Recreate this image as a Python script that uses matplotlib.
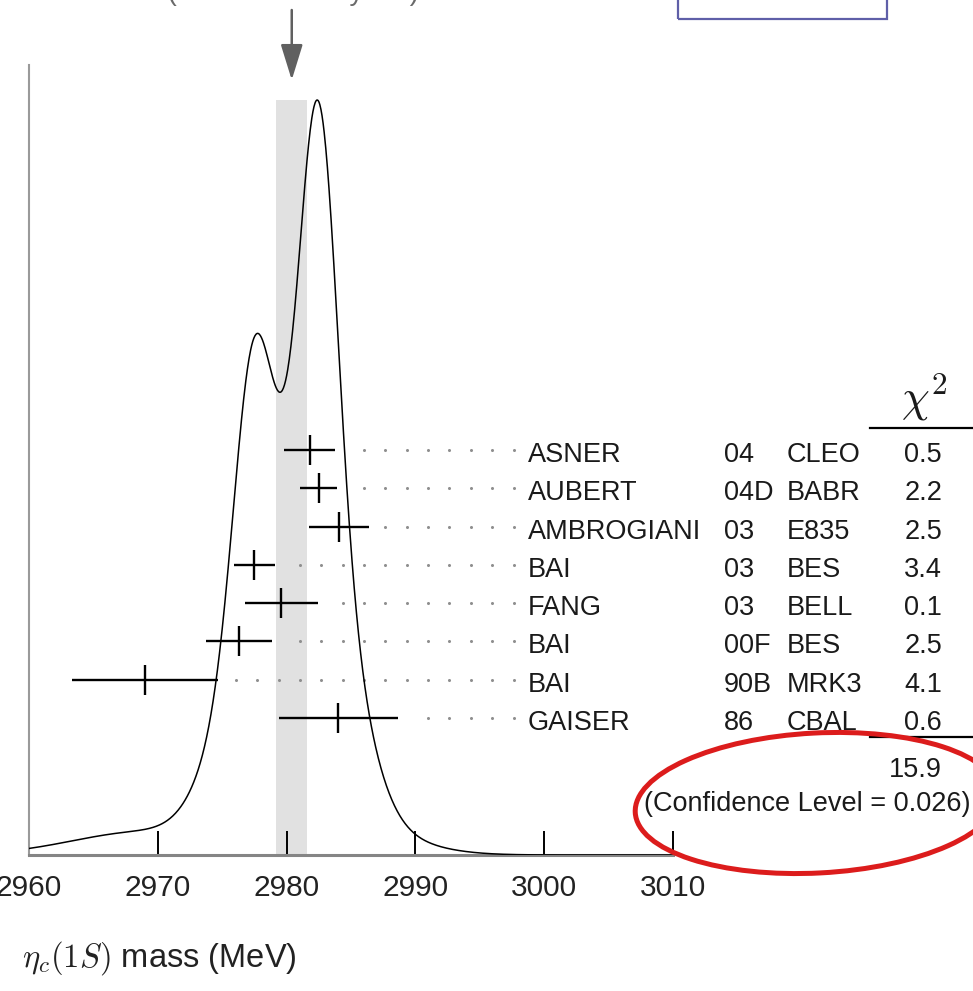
import numpy as np
import matplotlib
matplotlib.use("Agg")
import matplotlib.pyplot as plt
from matplotlib import font_manager
from matplotlib.lines import Line2D
from matplotlib.patches import Rectangle, Ellipse

# eta_c(1S) mass measurements (MeV)
authors = ["ASNER", "AUBERT", "AMBROGIANI", "BAI", "FANG", "BAI", "BAI", "GAISER"]
years = ["04", "04D", "03", "03", "03", "00F", "90B", "86"]
experiments = ["CLEO", "BABR", "E835", "BES", "BELL", "BES", "MRK3", "CBAL"]
mass = [2981.8, 2982.5, 2984.1, 2977.5, 2979.6, 2976.3, 2969.0, 2984.0]
stat_err = [1.3, 1.1, 2.1, 1.0, 2.3, 2.3, 4.0, 2.3]
syst_err = [1.5, 0.9, 1.0, 1.2, 1.6, 1.2, 4.0, 4.0]
chi2 = ["0.5", "2.2", "2.5", "3.4", "0.1", "2.5", "4.1", "0.6"]
chi2_total = "15.9"
confidence_level = "0.026"
avg_value = 2980.4
avg_error = 1.2
scale_factor = 1.6
xticks = [2960, 2970, 2980, 2990, 3000, 3010]

W, H = 973, 991
plt.rcParams["mathtext.fontset"] = "cm"

available = {f.name for f in font_manager.fontManager.ttflist}
SANS = "Liberation Sans"
NARROW = "Liberation Sans Narrow" if "Liberation Sans Narrow" in available else SANS
tick_size = 23 if NARROW != SANS else 21.5


def fx(px):
    return px / W


def fy(py):
    return 1 - py / H


fig = plt.figure(figsize=(W / 100, H / 100), dpi=100)
fig.patch.set_facecolor("white")

AX_L, AX_R, AX_T, AX_B = 29, 673, 65, 855
ax = fig.add_axes([fx(AX_L), fy(AX_B), (AX_R - AX_L) / W, (AX_B - AX_T) / H])
ax.set_xlim(xticks[0], xticks[-1])

mass_a = np.array(mass)
err_a = np.hypot(stat_err, syst_err)

# ideogram: each measurement a Gaussian of width sigma and area proportional to 1/sigma
grid = np.linspace(xticks[0], xticks[-1], 1201)
ideo = np.zeros_like(grid)
for m, s in zip(mass_a, err_a):
    ideo += np.exp(-0.5 * ((grid - m) / s) ** 2) / s ** 2
peak = ideo.max()
ymax = peak * (AX_B - AX_T) / 755.0
ax.set_ylim(0, ymax)


def ydata(py):
    return (AX_B - py) / (AX_B - AX_T) * ymax


# weighted average band and curve
ax.fill_between([avg_value - avg_error, avg_value + avg_error], 0, peak,
                color="#e1e1e1", lw=0, zorder=1)
ax.plot(grid, ideo, color="black", lw=1.1, zorder=3)

# measurements with error bars
row_py = [450 + 38.29 * i for i in range(len(mass))]
ys = [ydata(p) for p in row_py]
ax.errorbar(mass_a, ys, xerr=err_a, fmt="|", color="black", ms=21, mew=1.7,
            elinewidth=1.7, capsize=0, zorder=4)

# dotted leaders towards the labels
dot_grid = 2981.04 + 1.658 * np.arange(-8, 14)
for m, e, y in zip(mass_a, err_a, ys):
    xs = dot_grid[(dot_grid > m + e + 1.0) & (dot_grid < 2998.0)]
    ax.plot(xs, [y] * len(xs), ls="none", marker="o", ms=2.2, mec="none",
            color="#8f8f8f", zorder=2)

# arrow at the weighted average
ax.annotate("", xy=(avg_value, ydata(80)), xytext=(avg_value, ydata(10)),
            arrowprops=dict(arrowstyle="-|>,head_length=1.1,head_width=0.34",
                            mutation_scale=20, lw=1.8, color="#606060",
                            shrinkA=0, shrinkB=0),
            annotation_clip=False)

# axes styling
for side in ("top", "right"):
    ax.spines[side].set_visible(False)
ax.spines["left"].set_color("#9a9a9a")
ax.spines["left"].set_linewidth(1.5)
ax.spines["bottom"].set_color("#858585")
ax.spines["bottom"].set_linewidth(2.2)
ax.set_yticks([])
ax.set_xticks(xticks)
ax.set_xticklabels([str(t) for t in xticks], family=[NARROW, SANS])
ax.tick_params(axis="x", direction="in", length=17, width=1.4, color="black",
               pad=14, labelsize=tick_size, labelcolor="#222222")
ax.set_xlabel(r"$\eta_c(1S)$ mass (MeV)", fontsize=23.5, family=[NARROW, SANS],
              ha="left", va="center", color="#222222")
ax.xaxis.set_label_coords((22 - AX_L) / (AX_R - AX_L), (AX_B - 958) / (AX_B - AX_T))

# table of measurements
TXT = dict(fontsize=19.5, family=SANS, va="baseline", color="#1a1a1a")
for p, a, yr, ex, c in zip(row_py, authors, years, experiments, chi2):
    base = fy(p + 12)
    fig.text(fx(528), base, a, **TXT)
    fig.text(fx(724), base, yr, **TXT)
    fig.text(fx(787), base, ex, **TXT)
    fig.text(fx(942), base, c, ha="right", **TXT)

fig.text(fx(924), fy(412), r"$\chi^2$", fontsize=32, ha="center", va="baseline",
         color="#1a1a1a")
fig.add_artist(Line2D([fx(870), fx(973)], [fy(428)] * 2, transform=fig.transFigure,
                      color="black", lw=1.6))
fig.add_artist(Line2D([fx(870), fx(973)], [fy(737)] * 2, transform=fig.transFigure,
                      color="black", lw=1.6))
fig.text(fx(942), fy(777), chi2_total, ha="right", **TXT)
fig.text(fx(970), fy(811), f"(Confidence Level = {confidence_level})", ha="right", **TXT)

# header text along the top edge
fig.text(fx(21), fy(0.5), f"{avg_value}\u00b1{avg_error} (Error scaled by {scale_factor})",
         fontsize=20, family=SANS, va="baseline", color="#6a6a6a")
fig.add_artist(Rectangle((fx(678), fy(19)), fx(887) - fx(678), 40 / H,
                         transform=fig.transFigure, fill=False, ec="#5f5fa8", lw=1.6))

# red highlight around the total chi-square
fig.add_artist(Ellipse((8.17, (H - 803) / 100), 3.64, 1.40, angle=3,
                       transform=fig.dpi_scale_trans, fill=False,
                       ec="#dc1c1c", lw=3.6, zorder=10))

fig.savefig("out.png", dpi=100, facecolor="white")
